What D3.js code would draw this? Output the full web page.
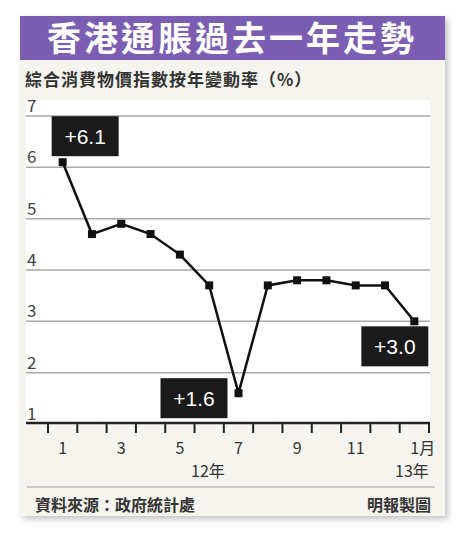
<!DOCTYPE html><html><head><meta charset="utf-8"><script src="https://cdn.jsdelivr.net/npm/d3@7"></script>
<style>body{margin:0;background:#fff}</style></head><body><svg id="c" width="463" height="540"></svg>
<script>
const months=["1","2","3","4","5","6","7","8","9","10","11","12","1"];
const values=[6.1,4.7,4.9,4.7,4.3,3.7,1.6,3.7,3.8,3.8,3.7,3.7,3.0];
const yTicks=[1,2,3,4,5,6,7];
const callouts=[{i:0,t:"+6.1"},{i:6,t:"+1.6"},{i:12,t:"+3.0"}];
const F="'Noto Sans CJK TC','Noto Sans',sans-serif";
const svg=d3.select("#c");
const defs=svg.append("defs");
const fl=defs.append("filter").attr("id","sh").attr("x","-5%").attr("y","-5%").attr("width","115%").attr("height","115%");
fl.append("feDropShadow").attr("dx",3).attr("dy",3).attr("stdDeviation",3).attr("flood-color","#999").attr("flood-opacity",0.6);
svg.append("rect").attr("x",20).attr("y",16).attr("width",425).attr("height",256+244).attr("fill","#f6f4ee").attr("filter","url(#sh)");
svg.append("rect").attr("x",20).attr("y",16).attr("width",425).attr("height",44).attr("fill","#7b5db2");
svg.append("text").attr("x",232).attr("y",51).attr("text-anchor","middle").attr("fill","#fff").attr("font-family",F).attr("font-weight","bold").attr("font-size",34).attr("letter-spacing",3).text("香港通脹過去一年走勢");
svg.append("text").attr("x",25).attr("y",86).attr("fill","#333").attr("font-family",F).attr("font-size",17).attr("font-weight","bold").attr("letter-spacing",1).text("綜合消費物價指數按年變動率（%）");
const x=d3.scaleBand().domain(d3.range(13)).range([48,429]);
const y=d3.scaleLinear().domain([1,7]).range([424,116]);
svg.append("rect").attr("x",26).attr("y",100).attr("width",404).attr("height",324).attr("fill","#fff");
const g=svg.append("g");
yTicks.forEach(v=>{
 if(v>1)g.append("line").attr("x1",26).attr("x2",430).attr("y1",y(v)).attr("y2",y(v)).attr("stroke","#aaa").attr("stroke-width",1.5);
 g.append("text").attr("x",27).attr("y",y(v)-4).attr("fill","#444").attr("font-family",F).attr("font-size",17).text(v);
});
g.append("line").attr("x1",26).attr("x2",430).attr("y1",423).attr("y2",423).attr("stroke","#222").attr("stroke-width",2.5);
d3.range(14).forEach(i=>{const xx=i<13?x(i):x(12)+x.bandwidth();
 g.append("line").attr("x1",xx).attr("x2",xx).attr("y1",423).attr("y2",433).attr("stroke","#222").attr("stroke-width",2);});
months.forEach((m,i)=>{if(i%2==0)g.append("text").attr("x",x(i)+x.bandwidth()/2).attr("y",454).attr("text-anchor",i==12?"start":"middle").attr("dx",i==12?-4:0).attr("fill","#333").attr("font-family",F).attr("font-size",16).text(i==12?m+"月":m);});
g.append("text").attr("x",208).attr("y",477).attr("text-anchor","middle").attr("fill","#333").attr("font-family",F).attr("font-size",16).text("12年");
g.append("text").attr("x",412).attr("y",477).attr("text-anchor","middle").attr("fill","#333").attr("font-family",F).attr("font-size",16).text("13年");
const cx=i=>x(i)+x.bandwidth()/2;
g.append("path").attr("d",d3.line().x((d,i)=>cx(i)).y(d=>y(d))(values)).attr("fill","none").attr("stroke","#111").attr("stroke-width",2.5);
g.selectAll("rect.p").data(values).join("rect").attr("x",(d,i)=>cx(i)-4).attr("y",d=>y(d)-4).attr("width",8).attr("height",8).attr("fill","#111");
const off={0:[-11,-46],6:[-78,-15],12:[-53,5]};
callouts.forEach(c=>{const o=off[c.i];const bx=cx(c.i)+o[0],by=y(values[c.i])+o[1];
 g.append("rect").attr("x",bx).attr("y",by).attr("width",67).attr("height",40).attr("fill","#1a1a1a");
 g.append("text").attr("x",bx+33.5).attr("y",by+28).attr("text-anchor","middle").attr("fill","#fff").attr("font-family","'Liberation Sans',Arial,sans-serif").attr("font-size",21).text(c.t);});
svg.append("line").attr("x1",27).attr("x2",435).attr("y1",487).attr("y2",487).attr("stroke","#bbb").attr("stroke-width",1.5);
svg.append("text").attr("x",35).attr("y",511).attr("fill","#333").attr("font-family",F).attr("font-size",16).attr("font-weight","bold").text("資料來源：政府統計處");
svg.append("text").attr("x",431).attr("y",511).attr("text-anchor","end").attr("fill","#333").attr("font-family",F).attr("font-size",16).attr("font-weight","bold").text("明報製圖");
</script></body></html>
